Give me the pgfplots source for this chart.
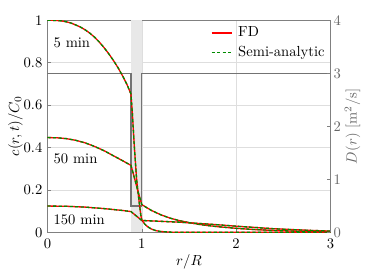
\documentclass[border=0pt]{standalone}
\usepackage{pgfplots}
\pgfplotsset{compat=1.18}
\usepackage{pgfplotstable}
\usetikzlibrary{calc}
\definecolor{fdred}{rgb}{1,0,0}
\definecolor{sagreen}{rgb}{0.0,0.55,0.0}
\definecolor{dline}{gray}{0.45}
\definecolor{axgray}{gray}{0.5}
\definecolor{gridgray}{gray}{0.87}
\definecolor{bandgray}{gray}{0.91}
\definecolor{rightc}{gray}{0.4}

\pgfplotstableread{
r D
0 3
0.885 3
0.885 0.5
1.0 0.5
1.0 3
3.0 3
}\Dtab

\pgfplotstableread{
r c
0 1.000
0.05 1.000
0.10 0.999
0.15 0.997
0.20 0.993
0.25 0.987
0.30 0.978
0.35 0.968
0.40 0.955
0.45 0.939
0.50 0.920
0.55 0.897
0.60 0.871
0.65 0.842
0.70 0.810
0.75 0.775
0.80 0.735
0.85 0.690
0.885 0.652
0.90 0.560
0.92 0.410
0.945 0.250
0.97 0.150
0.99 0.080
1.00 0.058
1.03 0.040
1.06 0.027
1.10 0.016
1.15 0.008
1.20 0.004
1.30 0.001
1.40 0.000
3.00 0.000
}\Tfive

\pgfplotstableread{
r c
0 0.447
0.1 0.446
0.2 0.442
0.3 0.434
0.4 0.422
0.5 0.405
0.6 0.385
0.7 0.361
0.8 0.337
0.885 0.316
0.92 0.260
0.96 0.192
1.00 0.131
1.05 0.117
1.10 0.104
1.20 0.083
1.30 0.067
1.40 0.055
1.50 0.046
1.60 0.038
1.70 0.032
1.80 0.027
2.00 0.019
2.20 0.013
2.40 0.009
2.60 0.006
2.80 0.004
3.00 0.003
}\Tfifty

\pgfplotstableread{
r c
0 0.124
0.2 0.123
0.4 0.119
0.6 0.112
0.8 0.103
0.885 0.098
0.94 0.078
1.00 0.056
1.10 0.054
1.20 0.052
1.30 0.050
1.40 0.048
1.50 0.045
1.60 0.042
1.70 0.039
1.80 0.036
2.00 0.029
2.20 0.023
2.40 0.017
2.60 0.013
2.80 0.009
3.00 0.006
}\Tonefifty

\begin{document}
\begin{tikzpicture}
\begin{axis}[
  name=L,
  scale only axis, width=193.8pt, height=145.2pt,
  xmin=0, xmax=3, ymin=0, ymax=1,
  xtick={0,1,2,3}, ytick={0,0.2,0.4,0.6,0.8,1},
  yticklabels={0,0.2,0.4,0.6,0.8,1},
  grid=major, major grid style={gridgray, line width=0.4pt},
  axis line style={axgray, line width=0.5pt},
  tick style={axgray, line width=0.4pt}, major tick length=2.5pt, tick align=inside,
  tick pos=left,
  xlabel={$r/R$}, ylabel={$c(r,t)/C_0$},
  xlabel style={at={(axis description cs:0.5,0)}, anchor=center, yshift=-20.3pt},
  ylabel style={at={(axis description cs:0,0.5)}, anchor=center, yshift=21.9pt},
  xticklabel style={yshift=-0.8pt},
]
\addplot[fill=bandgray, draw=none, forget plot] coordinates {(0.885,0) (0.885,1) (1,1) (1,0)} -- cycle;
\addplot[dline, line width=0.9pt, forget plot] table[x=r, y expr=\thisrow{D}/4] {\Dtab};
\addplot[fdred, line width=0.9pt, forget plot] table[x=r,y=c] {\Tfive};
\addplot[sagreen, line width=0.9pt, dash pattern=on 2.2pt off 1.6pt, forget plot] table[x=r,y=c] {\Tfive};
\addplot[fdred, line width=0.9pt, forget plot] table[x=r,y=c] {\Tfifty};
\addplot[sagreen, line width=0.9pt, dash pattern=on 2.2pt off 1.6pt, forget plot] table[x=r,y=c] {\Tfifty};
\addplot[fdred, line width=0.9pt, forget plot] table[x=r,y=c] {\Tonefifty};
\addplot[sagreen, line width=0.9pt, dash pattern=on 2.2pt off 1.6pt, forget plot] table[x=r,y=c] {\Tonefifty};
% legend
\draw[fdred, line width=0.8pt] (rel axis cs:0.580,0.940) -- (rel axis cs:0.651,0.940);
\node[anchor=west, inner sep=0pt, text height=1.5ex, text depth=0.25ex] at (rel axis cs:0.673,0.940) {FD};
\draw[sagreen, line width=0.8pt, dash pattern=on 2.2pt off 1.6pt] (rel axis cs:0.580,0.850) -- (rel axis cs:0.651,0.850);
\node[anchor=west, inner sep=0pt, text height=1.5ex, text depth=0.25ex] at (rel axis cs:0.673,0.850) {Semi-analytic};
\node[anchor=west, inner sep=0pt] at (axis cs:0.062,0.892) {5 min};
\node[anchor=west, inner sep=0pt] at (axis cs:0.062,0.346) {50 min};
\node[anchor=west, inner sep=0pt] at (axis cs:0.062,0.058) {150 min};
\end{axis}
\begin{axis}[
  scale only axis, width=193.8pt, height=145.2pt,
  xmin=0, xmax=3, ymin=0, ymax=4,
  axis x line=none, axis y line*=right,
  ytick={0,1,2,3,4},
  y axis line style={axgray, line width=0.5pt},
  tick style={axgray, line width=0.4pt}, major tick length=2.5pt, tick align=inside,
  yticklabel style={rightc, xshift=-1.3pt},
  ylabel={$D(r)$ $[\mathrm{m}^2/\mathrm{s}]$},
  ylabel style={rightc, at={(axis description cs:1,0.5)}, anchor=center, yshift=-15.1pt},
]
\addplot[draw=none, forget plot] table[x=r,y=D] {\Dtab};
\node[anchor=base west, inner sep=0pt, text=rightc] at (rel axis cs:1,1) [yshift=4.8pt] {$\times10^{-10}$};
\end{axis}
\pgfresetboundingbox
\path[use as bounding box] ($(L.south west)+(-32.5pt,-28.6pt)$) rectangle ($(L.north east)+(29.8pt,13.9pt)$);
\end{tikzpicture}
\end{document}
